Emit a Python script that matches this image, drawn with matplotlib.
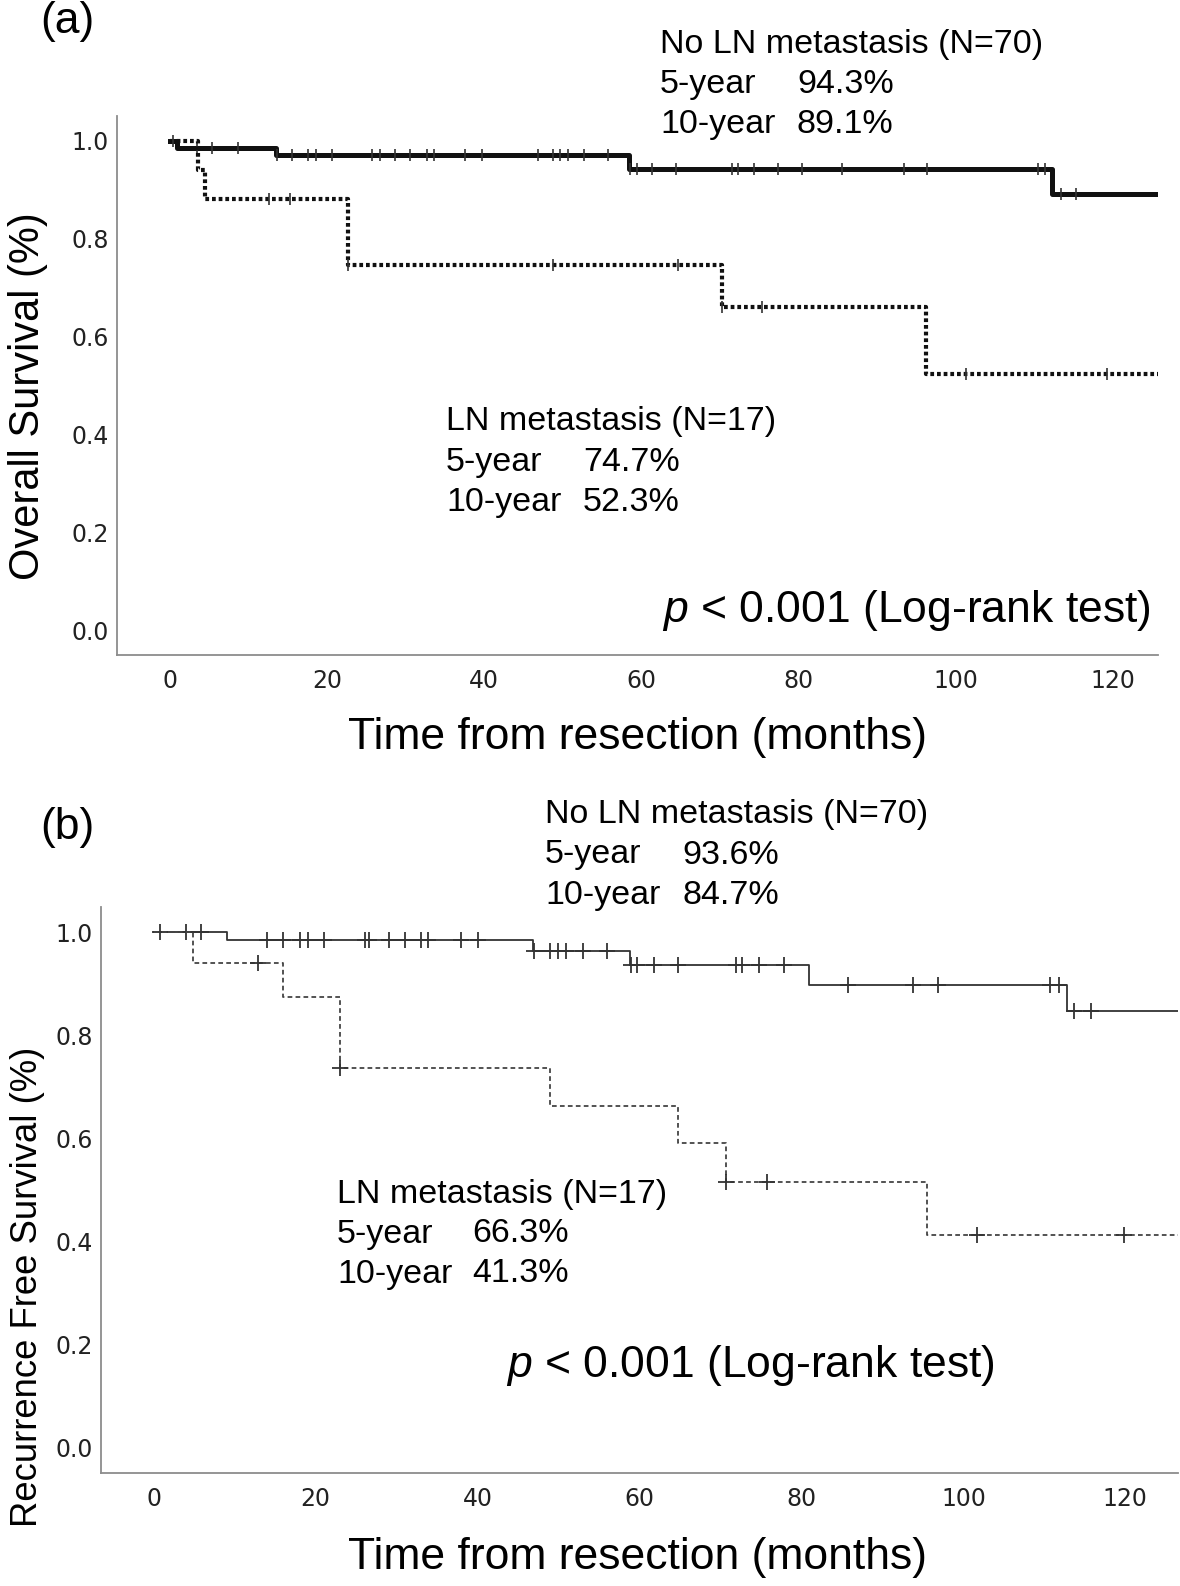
import numpy as np
import matplotlib.pyplot as plt

plt.rcParams['mathtext.fontset'] = 'custom'
plt.rcParams['mathtext.it'] = 'Liberation Sans:italic'
plt.rcParams['mathtext.rm'] = 'Liberation Sans'

W, H = 1180, 1586
SANS = 'Liberation Sans'

# (a) overall survival
os_no_events = [0.9, 13.5, 58.4, 112.2]
os_no_surv = [0.986, 0.971, 0.943, 0.891]
os_no_cens = [3.5, 5.3, 8.6, 13.6, 15.5, 17.6, 18.6, 20.6, 25.7, 26.7, 28.6, 30.6,
              32.7, 33.6, 37.6, 39.7, 46.8, 48.7, 49.6, 50.7, 52.7, 55.8, 58.5,
              59.4, 61.3, 64.4, 71.5, 72.3, 74.3, 77.4, 80.4, 85.5, 93.4, 96.4,
              110.5, 111.4, 113.4, 115.3]
os_ln_events = [3.6, 4.4, 22.6, 70.3, 96.2]
os_ln_surv = [0.941, 0.882, 0.747, 0.660, 0.523]
os_ln_cens = [0.4, 12.6, 15.3, 22.6, 48.7, 64.6, 70.3, 75.3, 101.3, 119.3]

# (b) recurrence free survival
rfs_no_events = [9.1, 46.9, 58.8, 80.9, 112.8]
rfs_no_surv = [0.986, 0.964, 0.936, 0.898, 0.847]
rfs_no_cens = [0.8, 4.0, 5.8, 14.0, 16.0, 18.1, 19.0, 21.0, 26.1, 26.6, 29.0, 31.0,
               33.0, 33.9, 38.0, 40.0, 47.0, 49.0, 49.9, 50.9, 53.0, 56.0, 58.9,
               59.7, 61.8, 64.8, 71.9, 72.7, 74.8, 77.8, 85.8, 93.8, 96.8,
               110.7, 111.8, 113.7, 115.8]
rfs_ln_events = [4.9, 16.0, 23.0, 49.0, 64.8, 70.7, 95.5]
rfs_ln_surv = [0.941, 0.875, 0.737, 0.663, 0.591, 0.516, 0.413]
rfs_ln_cens = [12.9, 23.0, 70.7, 75.7, 101.7, 119.8]

follow_end = 130
xticks = [0, 20, 40, 60, 80, 100, 120]
yticks = [0.0, 0.2, 0.4, 0.6, 0.8, 1.0]


def km(ax, events, surv, cens, line_kw, mark_kw):
    t = [0] + list(events) + [follow_end]
    s = [1.0] + list(surv) + [surv[-1]]
    ax.step(t, s, where='post', **line_kw)
    lev = np.array([1.0] + list(surv))
    idx = np.searchsorted(events, cens, side='right')
    ax.plot(cens, lev[idx], ls='none', **mark_kw)


def style(ax, xlim):
    ax.set_xlim(*xlim)
    ax.set_ylim(-0.05, 1.05)
    ax.set_xticks(xticks)
    ax.set_yticks(yticks, [f'{v:.1f}' for v in yticks])
    ax.tick_params(length=0, labelsize=17, colors='#222')
    ax.tick_params(axis='x', pad=10)
    ax.tick_params(axis='y', pad=6)
    for sp in ['top', 'right']:
        ax.spines[sp].set_visible(False)
    for sp in ['left', 'bottom']:
        ax.spines[sp].set_color('#8c8c8c')
        ax.spines[sp].set_linewidth(1.3)


def ftext(x, y, s, **kw):
    kw.setdefault('family', SANS)
    kw.setdefault('va', 'center')
    fig.text(x / W, 1 - y / H, s, **kw)


def block(x, y, title, five, ten, gap=137, step=40):
    ftext(x, y, title, fontsize=24.5)
    ftext(x, y + step, '5-year', fontsize=24.5)
    ftext(x + gap, y + step, five, fontsize=24.5)
    ftext(x, y + 2 * step, '10-year', fontsize=24.5)
    ftext(x + gap, y + 2 * step, ten, fontsize=24.5)


fig = plt.figure(figsize=(W / 100, H / 100), dpi=100)

# ---- (a)
ax1 = fig.add_axes([0.0994, 0.5869, 0.8817, 0.3398])
style(ax1, (-6.7, 125.7))
km(ax1, os_no_events, os_no_surv, os_no_cens,
   dict(color='#111', lw=3.6),
   dict(marker='|', ms=9, mew=1.2, color='#333'))
km(ax1, os_ln_events, os_ln_surv, os_ln_cens,
   dict(color='#111', lw=3.0, ls=(0, (0.9, 0.7)), dash_capstyle='butt'),
   dict(marker='|', ms=9, mew=1.2, color='#333'))

ftext(40, 22, '(a)', fontsize=32)
block(660, 44.5, 'No LN metastasis (N=70)', '94.3%', '89.1%')
block(446, 421.6, 'LN metastasis (N=17)', '74.7%', '52.3%', step=40.5)
ftext(662, 610.7, r'$p$ < 0.001 (Log-rank test)', fontsize=32)
ftext(638, 737, 'Time from resection (months)', fontsize=32, ha='center')
ftext(28, 396.6, 'Overall Survival (%)', fontsize=30, ha='center', rotation=90)

# ---- (b)
ax2 = fig.add_axes([0.0857, 0.0711, 0.9126, 0.3573])
style(ax2, (-6.5, 126.5))
km(ax2, rfs_no_events, rfs_no_surv, rfs_no_cens,
   dict(color='#333', lw=1.3),
   dict(marker='+', ms=11, mew=1.3, color='#333'))
km(ax2, rfs_ln_events, rfs_ln_surv, rfs_ln_cens,
   dict(color='#444', lw=1.3, ls=(0, (2.6, 1.8))),
   dict(marker='+', ms=11, mew=1.3, color='#333'))

ftext(40, 827, '(b)', fontsize=32)
block(545, 815, 'No LN metastasis (N=70)', '93.6%', '84.7%')
block(337, 1194, 'LN metastasis (N=17)', '66.3%', '41.3%', gap=135)
ftext(505.6, 1366, r'$p$ < 0.001 (Log-rank test)', fontsize=32)
ftext(638, 1557, 'Time from resection (months)', fontsize=32, ha='center')
ftext(28, 1286.7, 'Recurrence Free Survival (%)', fontsize=26.3, ha='center', rotation=90)

fig.savefig('out.png', dpi=100, facecolor='white')
